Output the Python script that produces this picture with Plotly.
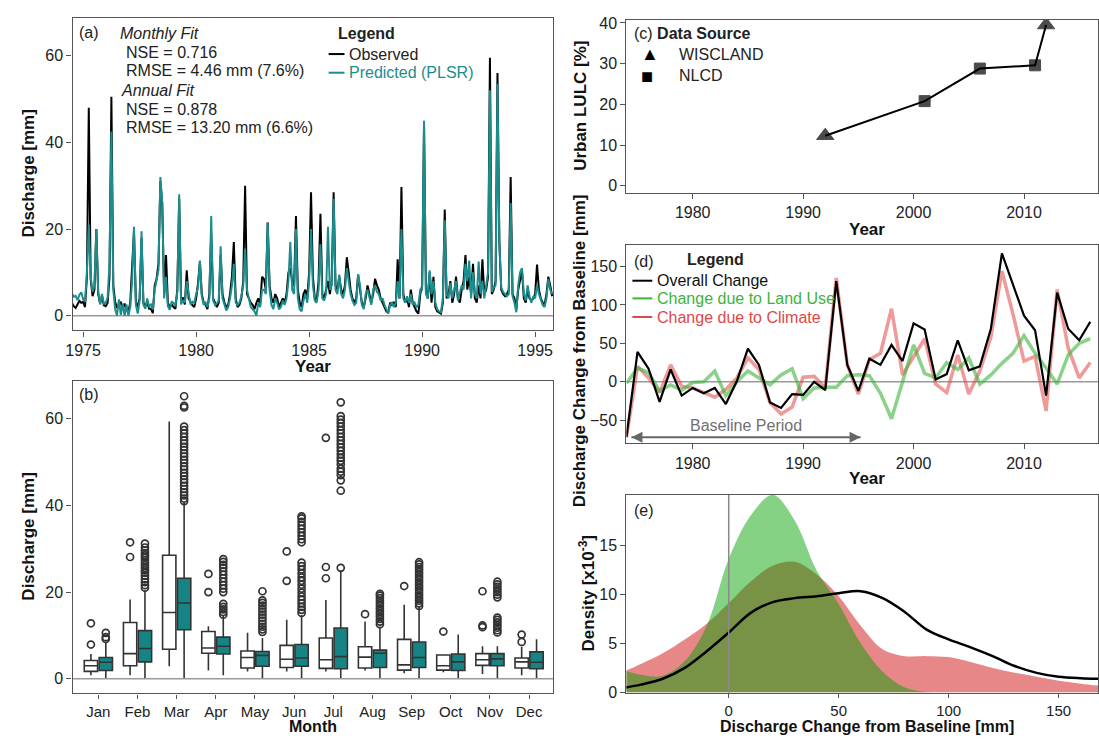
import plotly.graph_objects as go

W, H = 1099, 744
def px(x): return x / W
def py(y): return 1 - y / H

FONT = "Liberation Sans, Arial, sans-serif"
TEAL_LINE = "#1c8d8d"
TEAL_FILL = "#168484"
DARK = "#333333"

# ---------------- (a) monthly discharge, Jul 1974 .. Oct 1995 ----------------
start_year, start_month = 1974, 7
observed = [
    3.0, 2.2, 1.8, 2.6, 3.4, 3.0,
    3.2, 2.0, 9.0, 48.0, 8.5, 4.5, 6.0, 20.0, 5.0, 2.8, 4.6, 2.4,
    2.2, 3.0, 9.0, 50.5, 7.0, 3.2, 1.8, 2.5, 3.2, 1.6, 2.8, 1.5,
    0.8, 3.0, 13.0, 19.5, 3.2, 2.0, 4.0, 18.0, 3.0, 2.0, 3.2, 1.6,
    1.6, 0.6, 7.0, 8.5, 12.0, 31.0, 26.0, 5.0, 14.0, 3.0, 2.0, 2.6,
    2.0, 1.6, 6.0, 27.0, 3.2, 4.2, 2.6, 10.5, 4.0, 3.0, 2.4, 2.0,
    4.0, 7.5, 12.5, 5.0, 3.0, 2.5, 1.5, 5.0, 19.0, 4.0, 3.0, 2.0,
    3.0, 14.0, 5.0, 3.0, 2.0, 2.5, 5.0, 9.0, 17.0, 4.0, 2.0, 2.5,
    4.0, 8.0, 30.0, 5.0, 4.0, 3.0, 2.5, 1.5, 3.0, 4.0, 2.5, 9.0,
    8.5, 6.0, 21.5, 7.0, 4.0, 3.0, 5.0, 4.0, 2.0, 3.0, 4.0, 3.0,
    5.0, 10.0, 11.0, 8.0, 7.0, 23.0, 6.0, 3.0, 2.0, 5.0, 6.0, 4.0,
    10.0, 28.5, 9.0, 4.0, 3.5, 8.0, 23.5, 5.0, 4.0, 6.0, 8.0, 5.0,
    8.0, 28.5, 7.0, 6.0, 9.0, 6.0, 5.0, 7.0, 13.5, 10.0, 6.0, 4.0,
    3.0, 4.0, 9.5, 6.0, 3.0, 2.0, 4.0, 7.0, 5.0, 3.0, 5.0, 8.5,
    7.0, 6.0, 4.0, 3.0, 2.0, 1.0, 0.8, 3.0, 2.5, 3.0, 2.0, 13.0,
    4.0, 29.7, 5.0, 3.0, 4.0, 2.0, 6.0, 3.0, 2.0, 1.0, 0.5, 5.0,
    7.0, 44.0, 6.0, 4.0, 10.0, 3.0, 9.0, 2.0, 1.0, 0.8, 0.5, 3.0,
    24.5, 4.0, 5.0, 8.0, 3.0, 5.0, 9.0, 4.0, 3.0, 6.0, 8.0, 14.0,
    6.0, 9.0, 5.0, 12.0, 4.0, 3.0, 7.0, 4.0, 13.0, 5.0, 6.0, 9.0,
    59.5, 5.0, 6.0, 8.0, 56.0, 17.0, 6.0, 5.0, 4.5, 5.0, 6.0, 32.0,
    5.0, 4.0, 1.5, 6.0, 8.0, 10.5, 4.0, 3.0, 6.0, 4.0, 3.5, 4.0,
    5.0, 11.8, 6.0, 4.0, 3.0, 2.5, 5.0, 9.0, 7.0, 4.5,
]
predicted = [
    5.2, 4.4, 4.6, 3.6, 4.8, 5.4,
    3.8, 3.2, 10.0, 21.0, 9.0, 5.5, 7.0, 20.0, 5.5, 2.6, 5.0, 2.8,
    3.0, 4.2, 12.0, 42.5, 6.0, 1.5, 0.0, 3.8, 0.2, 2.8, 0.0, 2.6,
    0.0, 2.0, 8.0, 20.5, 2.5, 0.5, 3.5, 19.5, 2.6, 1.6, 4.0, 2.2,
    2.6, 1.4, 6.0, 8.0, 10.5, 32.0, 26.0, 4.0, 9.0, 2.2, 1.4, 3.2,
    3.0, 2.2, 5.5, 28.0, 2.6, 3.6, 3.0, 8.0, 5.0, 2.6, 3.2, 3.0,
    5.0, 6.5, 12.7, 4.5, 2.5, 3.0, 2.0, 4.0, 23.0, 3.5, 2.5, 2.8,
    3.5, 16.0, 4.0, 2.5, 1.2, 2.0, 4.0, 7.0, 12.0, 3.0, 2.5, 3.0,
    4.5, 7.0, 15.5, 6.0, 3.5, 2.0, 1.5, 1.0, 0.0, 3.0, 2.0, 6.0,
    6.0, 5.0, 21.5, 6.0, 2.5, 1.5, 4.0, 3.0, 1.5, 2.0, 3.5, 2.5,
    4.0, 8.0, 17.0, 6.0, 5.0, 20.0, 4.0, 1.5, 1.0, 3.5, 5.0, 3.0,
    8.0, 20.0, 7.0, 3.5, 3.0, 6.0, 16.5, 4.0, 3.5, 5.0, 20.5, 6.0,
    7.0, 27.0, 6.0, 5.0, 9.5, 5.0, 4.0, 6.0, 11.0, 8.0, 5.0, 3.5,
    2.5, 3.0, 9.5, 7.0, 2.5, 1.5, 5.0, 6.0, 4.5, 2.5, 6.0, 7.0,
    5.5, 5.0, 3.5, 4.0, 2.5, 1.5, 0.5, 2.5, 3.0, 2.0, 3.0, 8.0,
    4.0, 20.0, 4.0, 3.0, 4.5, 3.0, 5.0, 2.5, 3.0, 2.0, 2.5, 6.0,
    6.0, 45.0, 5.0, 4.0, 10.5, 5.0, 8.0, 3.0, 1.5, 1.0, 0.8, 4.0,
    22.0, 5.0, 4.0, 7.5, 4.0, 6.0, 8.0, 3.5, 5.0, 7.0, 6.0, 12.0,
    8.0, 12.7, 4.0, 10.0, 5.0, 4.0, 12.5, 5.0, 8.0, 4.0, 7.0, 10.0,
    52.0, 5.5, 6.5, 7.0, 53.5, 16.5, 6.5, 5.5, 5.0, 4.5, 5.0, 26.0,
    4.5, 3.0, 0.8, 7.0, 10.0, 11.0, 5.0, 3.5, 7.0, 4.5, 3.0, 4.5,
    4.0, 7.0, 5.0, 3.5, 2.5, 2.0, 4.0, 8.5, 6.0, 5.0,
]
year_ticks_a = [1975, 1980, 1985, 1990, 1995]

# ---------------- (b) monthly box plots ----------------
months = ["Jan", "Feb", "Mar", "Apr", "May", "Jun", "Jul", "Aug", "Sep", "Oct", "Nov", "Dec"]
obs_lower = [0.8, 0.8, 2.9, 1.9, 1.7, 1.7, 1.7, 1.9, 1.3, 1.5, 1.1, 0.8]
obs_q1 = [1.7, 3.0, 6.8, 5.9, 2.5, 2.6, 2.4, 2.5, 2.0, 2.0, 3.1, 2.5]
obs_median = [3.0, 5.8, 15.3, 7.1, 4.9, 4.5, 4.4, 5.0, 3.2, 3.0, 4.4, 3.9]
obs_q3 = [4.2, 13.0, 28.5, 10.9, 6.4, 7.7, 9.4, 7.4, 9.1, 5.5, 5.8, 4.8]
obs_upper = [5.7, 18.3, 59.4, 12.1, 10.6, 13.6, 18.2, 13.2, 17.1, 5.5, 7.5, 7.4]
obs_outliers = [[7.9, 12.8], [28.1, 31.5], [], [20.0, 24.2], [], [22.6, 29.4],
                [23.2, 25.8, 55.6], [14.9], [21.4], [10.9], [11.9, 12.3, 20.2], [8.5, 10.2]]
pred_lower = [0.2, 0.2, 0.2, 0.8, 0.2, 0.2, 0.2, 0.2, 0.2, 0.2, 0.2, 0.2]
pred_q1 = [1.9, 3.9, 11.3, 5.7, 2.9, 2.9, 2.3, 2.6, 2.6, 1.9, 3.0, 2.3]
pred_median = [3.8, 7.0, 17.5, 7.5, 5.4, 4.8, 5.1, 5.9, 4.9, 3.9, 4.6, 3.8]
pred_q3 = [4.9, 11.1, 23.2, 9.6, 6.3, 7.9, 11.7, 6.6, 8.5, 5.7, 5.8, 6.2]
pred_upper = [8.5, 20.4, 40.8, 14.5, 9.4, 14.7, 25.0, 12.0, 16.6, 10.2, 7.5, 9.1]
pred_outliers = [
    [9.2, 9.6, 10.6],
    [21.0, 21.6, 22.3, 23.0, 23.8, 24.5, 25.0, 25.6, 26.2, 26.8, 27.4, 28.0, 28.5, 29.0, 29.6, 30.3, 31.2],
    [41.0, 41.6, 42.3, 43.0, 43.8, 44.5, 45.3, 46.0, 46.8, 47.5, 48.3, 49.0, 49.8, 50.5, 51.3, 52.0,
     52.8, 53.5, 54.3, 55.0, 55.8, 56.6, 57.4, 58.2, 62.6, 63.0, 65.2],
    [14.8, 15.4, 16.0, 16.6, 17.3, 20.0, 20.8, 21.6, 22.4, 23.2, 24.0, 24.8, 25.6, 26.3, 27.0, 27.6],
    [10.8, 11.4, 12.0, 12.7, 13.4, 14.1, 14.8, 15.5, 16.2, 16.9, 17.5, 18.1, 20.2],
    [15.2, 15.9, 16.6, 17.4, 18.2, 19.0, 19.9, 20.8, 21.7, 22.6, 23.4, 24.3, 25.2, 26.0, 26.8,
     31.5, 32.2, 33.0, 33.8, 34.6, 35.4, 36.2, 37.0, 37.5],
    [25.6, 43.4, 45.8, 47.0, 47.8, 48.5, 49.5, 50.3, 51.0, 51.8, 52.6, 53.4, 54.2, 55.0, 55.8,
     56.6, 57.4, 58.2, 59.0, 59.8, 60.6, 63.8],
    [12.6, 13.2, 13.8, 14.4, 15.0, 15.6, 16.2, 16.8, 17.4, 18.0, 18.6, 19.2, 19.6],
    [16.8, 17.4, 18.0, 18.6, 19.2, 19.8, 20.4, 21.0, 21.6, 22.2, 22.8, 23.4, 24.0, 24.6, 25.2, 25.8, 26.4, 26.9],
    [],
    [10.7, 11.2, 11.8, 12.4, 13.0, 13.6, 14.1, 18.8, 19.4, 20.0, 20.6, 21.2, 21.8, 22.4],
    [],
]

# ---------------- (c) urban land use ----------------
lulc_years = [1992, 2001, 2006, 2011, 2012]
lulc_pct = [12.3, 20.8, 28.8, 29.6, 39.5]
lulc_source = ["WISCLAND", "NLCD", "NLCD", "NLCD", "WISCLAND"]

# ---------------- (d) annual change from baseline ----------------
years_d = list(range(1974, 2017))
overall_change = [-72, 39, 17, -26, 16, -18, -8, -15, -8, -29, 1, 43, 22, -27, -34, -16, -17, 0, -11,
                  131, 22, -12, 30, 22, 48, 27, 76, 68, 3, 10, 54, 15, 20, 69, 167, 126, 86, 67, -18,
                  116, 69, 54, 78]
landuse_change = [-2, 18, 12, -12, -4, -11, -1, 0, 14, -18, 0, 14, 5, -4, 9, 17, -22, -8, -7,
                  -7, 8, 9, 8, -15, -48, 0, 48, 11, 5, 25, 16, 31, -3, 9, 24, 37, 60, 37, 18,
                  -3, 35, 50, 56]
climate_change = [-72, 20, 5, -14, 22, -6, -8, -14, -20, -10, 5, 31, 16, -27, -42, -33, 6, 7, -8,
                  135, 22, -16, 29, 37, 95, 9, 33, 56, -3, -14, 35, -16, 14, 58, 144, 88, 27, 33, -38,
                  120, 44, 5, 25]
baseline_start, baseline_end = 1974.45, 1995.2
baseline_level = -72
year_ticks_cd = [1980, 1990, 2000, 2010]

# ---------------- (e) densities (x10^-3) ----------------
dens_x = [-47, -40, -30, -20, -10, 0, 10, 20, 30, 40, 50, 60, 70, 80, 90, 100, 110, 120, 130, 140, 150, 160, 168]
dens_landuse = [2.2, 1.8, 1.7, 3.2, 6.8, 13.6, 18.0, 20.1, 17.5, 12.4, 9.0, 5.0, 2.1, 0.5, 0.05, 0, 0, 0, 0, 0, 0, 0, 0]
dens_climate = [2.2, 2.9, 4.0, 5.4, 7.0, 9.1, 11.3, 12.9, 13.3, 12.0, 9.8, 6.8, 4.4, 3.7, 3.7, 3.6, 3.1, 2.5, 2.0, 1.6, 1.2, 0.9, 0.7]
dens_overall = [0.5, 0.8, 1.4, 2.5, 4.2, 6.1, 8.1, 9.2, 9.6, 9.8, 10.1, 10.3, 9.6, 8.2, 6.4, 5.4, 4.6, 3.7, 2.7, 2.0, 1.6, 1.45, 1.4]
dens_ticks_x = [0, 50, 100, 150]

# ======================================================================
fig = go.Figure()

# (a)
t_a = [start_year + (start_month - 1 + i) / 12 for i in range(len(observed))]
fig.add_trace(go.Scatter(x=t_a, y=observed, mode="lines", line=dict(color="black", width=2),
                         xaxis="x", yaxis="y", name="Observed"))
fig.add_trace(go.Scatter(x=t_a, y=predicted, mode="lines", line=dict(color=TEAL_LINE, width=2),
                         xaxis="x", yaxis="y", name="Predicted (PLSR)"))

# (b)
off = 0.19
bw = 0.34
fig.add_trace(go.Box(x=[i - off for i in range(12)], q1=obs_q1, median=obs_median, q3=obs_q3,
                     lowerfence=obs_lower, upperfence=obs_upper, width=bw, whiskerwidth=0,
                     fillcolor="white", line=dict(color=DARK, width=1.6), boxpoints=False,
                     xaxis="x2", yaxis="y2", name="Observed"))
fig.add_trace(go.Box(x=[i + off for i in range(12)], q1=pred_q1, median=pred_median, q3=pred_q3,
                     lowerfence=pred_lower, upperfence=pred_upper, width=bw, whiskerwidth=0,
                     fillcolor=TEAL_FILL, line=dict(color=DARK, width=1.6), boxpoints=False,
                     xaxis="x2", yaxis="y2", name="Predicted"))
ox, oy, qx, qy = [], [], [], []
for i in range(12):
    for v in obs_outliers[i]:
        ox.append(i - off); oy.append(v)
    for v in pred_outliers[i]:
        qx.append(i + off); qy.append(v)
for xs, ys in ((ox, oy), (qx, qy)):
    fig.add_trace(go.Scatter(x=xs, y=ys, mode="markers",
                             marker=dict(symbol="circle-open", size=7, color=DARK, line=dict(width=1.7)),
                             xaxis="x2", yaxis="y2"))

# (c)
sym = {"WISCLAND": "triangle-up", "NLCD": "square"}
siz = {"WISCLAND": 15, "NLCD": 11}
fig.add_trace(go.Scatter(x=lulc_years, y=lulc_pct, mode="lines+markers",
                         line=dict(color="black", width=2),
                         marker=dict(symbol=[sym[s] for s in lulc_source], size=[siz[s] for s in lulc_source],
                                     color="black", line=dict(color="black", width=1)),
                         xaxis="x3", yaxis="y3"))

# (d)
fig.add_trace(go.Scatter(x=years_d, y=climate_change, mode="lines",
                         line=dict(color="rgba(225,70,70,0.55)", width=3.5), xaxis="x4", yaxis="y4"))
fig.add_trace(go.Scatter(x=years_d, y=landuse_change, mode="lines",
                         line=dict(color="rgba(60,180,60,0.6)", width=3.5), xaxis="x4", yaxis="y4"))
fig.add_trace(go.Scatter(x=years_d, y=overall_change, mode="lines",
                         line=dict(color="black", width=2.2), xaxis="x4", yaxis="y4"))
# baseline-period double arrow
fig.add_trace(go.Scatter(x=[baseline_start, baseline_end], y=[baseline_level, baseline_level],
                         mode="lines+markers", line=dict(color="#666", width=2),
                         marker=dict(symbol=["arrow-left", "arrow-right"], size=11, color="#666"),
                         cliponaxis=False, xaxis="x4", yaxis="y4"))

# (e)
fig.add_trace(go.Scatter(x=dens_x, y=dens_climate, mode="lines", line=dict(width=0, shape="spline"),
                         fill="tozeroy", fillcolor="rgba(205,0,0,0.47)", xaxis="x5", yaxis="y5"))
fig.add_trace(go.Scatter(x=dens_x, y=dens_landuse, mode="lines", line=dict(width=0, shape="spline"),
                         fill="tozeroy", fillcolor="rgba(0,160,0,0.48)", xaxis="x5", yaxis="y5"))
fig.add_trace(go.Scatter(x=dens_x, y=dens_overall, mode="lines", line=dict(color="black", width=2.5, shape="spline"),
                         xaxis="x5", yaxis="y5"))

# ---------------- axes ----------------
def axis_style(size=16, ticklen=5):
    return dict(showline=True, mirror=True, linecolor="#555", linewidth=1.3, ticks="outside",
                ticklen=ticklen, tickwidth=1.2, tickcolor="#555", showgrid=False, zeroline=False,
                tickfont=dict(size=size, color="#222", family=FONT))

L_a, R_a = 66, 550
L_r, R_r = 624, 1099
fig.update_layout(
    xaxis=dict(domain=[px(L_a), px(R_a)], range=[1974.53, 1995.79], tickvals=year_ticks_a, anchor="y", **axis_style()),
    yaxis=dict(domain=[py(331.7), py(13.2)], range=[-3.4, 68.7], tickvals=[0, 20, 40, 60], anchor="x", **axis_style()),
    xaxis2=dict(domain=[px(L_a), px(R_a)], range=[-0.66, 11.61], tickvals=list(range(12)), ticktext=months,
                anchor="y2", **axis_style(15, 4)),
    yaxis2=dict(domain=[py(701.7), py(383.3)], range=[-3.4, 68.7], tickvals=[0, 20, 40, 60], anchor="x2", **axis_style()),
    xaxis3=dict(domain=[px(L_r), px(R_r)], range=[1974.0, 2016.7], tickvals=year_ticks_cd, anchor="y3", **axis_style()),
    yaxis3=dict(domain=[py(191.7), py(15)], range=[-1.8, 40.8], tickvals=[0, 10, 20, 30, 40], anchor="x3", **axis_style()),
    xaxis4=dict(domain=[px(L_r), px(R_r)], range=[1974.0, 2016.7], tickvals=year_ticks_cd, anchor="y4", **axis_style()),
    yaxis4=dict(domain=[py(446.7), py(245)], range=[-80, 177.4], tickvals=[-50, 0, 50, 100, 150], anchor="x4", **axis_style()),
    xaxis5=dict(domain=[px(L_r), px(R_r)], range=[-46.5, 167.9], tickvals=dens_ticks_x, anchor="y5", **axis_style(15, 4)),
    yaxis5=dict(domain=[py(700.7), py(499.3)], range=[0, 20.1], tickvals=[0, 5, 10, 15], anchor="x5", **axis_style()),
)

# ---------------- reference lines ----------------
shapes = []
for xr, yr in (("x", "y"), ("x2", "y2"), ("x4", "y4")):
    shapes.append(dict(type="line", xref=f"{xr} domain", yref=yr, x0=0, x1=1, y0=0, y1=0,
                       line=dict(color="#9a9a9a", width=1.6), layer="below"))
shapes.append(dict(type="line", xref="x5", yref="y5 domain", x0=0, x1=0, y0=0, y1=1,
                   line=dict(color="#8a8a8a", width=1.5), layer="above"))

# legend keys (panel a and d)
def key(x0, x1, y, color, width=2):
    shapes.append(dict(type="line", xref="paper", yref="paper", x0=px(x0), x1=px(x1), y0=py(y), y1=py(y),
                       line=dict(color=color, width=width)))

key(324, 340, 50, "black")
key(324, 340, 69, TEAL_LINE)
key(630, 650, 281, "black")
key(630, 650, 299, "#3cb43c")
key(630, 650, 318, "#e04848")

annotations = []
def txt(x, y, text, size=16, color="#222", xanchor="left", **kw):
    annotations.append(dict(x=px(x), y=py(y), xref="paper", yref="paper", text=text, showarrow=False,
                            xanchor=xanchor, yanchor="middle", font=dict(size=size, color=color, family=FONT), **kw))

# panel a texts
txt(71, 28, "(a)")
txt(112, 29, "<i>Monthly Fit</i>")
txt(118, 48, "NSE = 0.716")
txt(118, 67, "RMSE = 4.46 mm (7.6%)")
txt(113, 87, "<i>Annual Fit</i>")
txt(118, 106, "NSE = 0.878")
txt(118, 125, "RMSE = 13.20 mm (6.6%)")
txt(331, 29, "<b>Legend</b>")
txt(342, 50, "Observed")
txt(342, 69, "Predicted (PLSR)", color=TEAL_LINE)

# panel b
txt(71, 397, "(b)")

# panel c
txt(630, 29, "(c) <b>Data Source</b>")
txt(637, 50, "\u25B2", size=18, color="black")
txt(675, 50, "WISCLAND")
txt(637, 72, "\u25A0", size=20, color="black")
txt(675, 72, "NLCD")

# panel d
txt(630, 261, "(d)")
txt(683, 259, "<b>Legend</b>")
txt(653, 281, "Overall Change", color="#111")
txt(653, 299, "Change due to Land Use", color="#3cb43c")
txt(653, 318, "Change due to Climate", color="#e04848")
annotations.append(dict(xref="x4", yref="y4", x=(baseline_start + baseline_end) / 2, y=-57,
                        text="Baseline Period", showarrow=False, font=dict(size=16, color="#707070", family=FONT)))

# panel e
txt(630, 515, "(e)")

# axis titles
def ytitle(x, y, text):
    annotations.append(dict(x=px(x), y=py(y), xref="paper", yref="paper", text=text, showarrow=False,
                            textangle=-90, xanchor="center", yanchor="middle",
                            font=dict(size=17, color="#111", family=FONT)))

def xtitle(x, y, text, size=17):
    annotations.append(dict(x=px(x), y=py(y), xref="paper", yref="paper", text=text, showarrow=False,
                            xanchor="center", yanchor="middle", font=dict(size=size, color="#111", family=FONT)))

ytitle(22, 172, "<b>Discharge [mm]</b>")
ytitle(22, 542, "<b>Discharge [mm]</b>")
ytitle(577, 103, "<b>Urban LULC [%]</b>")
ytitle(577, 352, "<b>Discharge Change from Baseline [mm]</b>")
ytitle(584, 600, "<b>Density [x10<sup>-3</sup>]</b>")
xtitle(308, 368, "<b>Year</b>")
xtitle(308, 735, "<b>Month</b>", size=16)
xtitle(866, 229, "<b>Year</b>")
xtitle(866, 483, "<b>Year</b>")
xtitle(866, 735, "<b>Discharge Change from Baseline [mm]</b>", size=16)

fig.update_layout(
    width=W, height=H, margin=dict(l=0, r=0, t=0, b=0),
    plot_bgcolor="white", paper_bgcolor="white", showlegend=False,
    boxmode="overlay", font=dict(family=FONT, size=16, color="#222"),
    shapes=shapes, annotations=annotations,
)

fig.write_html("out.html", config={"displayModeBar": False},
               post_script="document.body.style.margin='0';document.body.style.padding='0';")
